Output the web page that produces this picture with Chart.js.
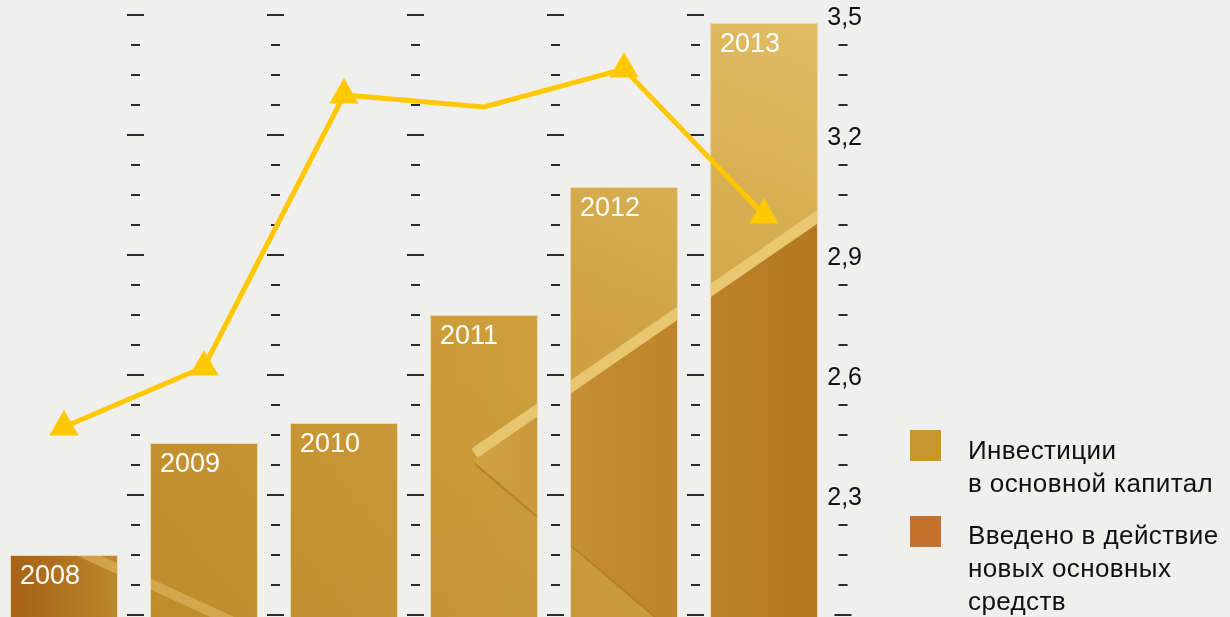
<!DOCTYPE html>
<html>
<head>
<meta charset="utf-8">
<script src="https://cdn.jsdelivr.net/npm/chart.js@4/dist/chart.umd.min.js"></script>
<style>
html, body { margin: 0; padding: 0; background: #efefee; overflow: hidden; }
#wrap { position: absolute; left: -6px; top: 0; width: 1236px; height: 617px; }
.legend { position: absolute; left: 910px; font-family: "Liberation Sans", Arial, sans-serif; font-size: 26px; letter-spacing: 0.4px; line-height: 33px; color: #111; }
.legend .box { position: absolute; left: 0; width: 31px; height: 31px; }
.legend .txt { position: absolute; left: 58px; white-space: nowrap; }
</style>
</head>
<body>
<div id="wrap"><canvas id="chart" width="1236" height="617"></canvas></div>
<div class="legend" style="top:430px">
  <div class="box" style="background:#c8962f"></div>
  <div class="txt" style="top:4px">Инвестиции<br>в основной капитал</div>
</div>
<div class="legend" style="top:516px">
  <div class="box" style="background:#c5722e"></div>
  <div class="txt" style="top:3px">Введено в действие<br>новых основных<br>средств</div>
</div>
<script>
// values
var years = ['2008', '2009', '2010', '2011', '2012', '2013'];
var barValues = [2.15, 2.43, 2.48, 2.75, 3.07, 3.48];      // bars (height on the same scale)
var lineValues = [2.47, 2.62, 3.30, 3.27, 3.365, 3.00];    // yellow line
var majorValues = [3.5, 3.2, 2.9, 2.6, 2.3];
var majorLabels = ['3,5', '3,2', '2,9', '2,6', '2,3'];
var axisTop = 3.5, axisFloor = 2.0, minorStep = 0.075;

Chart.defaults.font.family = '"Liberation Sans", Arial, sans-serif';

// big folded "gold sheet" that shows through the bars
var texCache = null;
function texture(chart) {
    var ca = chart.chartArea;
    if (!ca) return '#c8962f';
    var key = chart.width + 'x' + chart.height + ':' + ca.left + ',' + ca.top + ',' + ca.right + ',' + ca.bottom;
    if (texCache && texCache.key === key) return texCache.pattern;
    var c = document.createElement('canvas');
    c.width = chart.width; c.height = chart.height;
    var g = c.getContext('2d');
    var X = function(f){ return ca.left + f * (ca.right - ca.left); };
    var Y = function(f){ return ca.top + f * (ca.bottom - ca.top); };

    var gr = g.createLinearGradient(X(0), 0, X(1), 0);
    gr.addColorStop(0, '#a65e18');
    gr.addColorStop(0.07, '#b2721f');
    gr.addColorStop(0.14, '#c08a2e');
    gr.addColorStop(0.2, '#c5922f');
    gr.addColorStop(0.5, '#cb9a38');
    gr.addColorStop(1, '#d3a94a');
    g.fillStyle = gr;
    g.fillRect(0, 0, c.width, c.height);

    gr = g.createLinearGradient(0, Y(0), 0, Y(0.55));
    gr.addColorStop(0, 'rgba(250,225,150,0.35)');
    gr.addColorStop(1, 'rgba(250,225,150,0)');
    g.fillStyle = gr;
    g.fillRect(0, 0, c.width, c.height);

    gr = g.createLinearGradient(0, Y(0.6), 0, Y(1));
    gr.addColorStop(0, 'rgba(120,70,10,0)');
    gr.addColorStop(1, 'rgba(120,70,10,0.08)');
    g.fillStyle = gr;
    g.fillRect(0, 0, c.width, c.height);

    // wedge pointing left
    gr = g.createLinearGradient(X(0.57), 0, X(1), 0);
    gr.addColorStop(0, '#d0a446');
    gr.addColorStop(0.35, '#c38b30');
    gr.addColorStop(1, '#b27620');
    g.fillStyle = gr;
    g.beginPath();
    g.moveTo(X(0.570), Y(0.740));
    g.lineTo(X(1.05), Y(0.280));
    g.lineTo(X(1.05), Y(1.2));
    g.lineTo(X(0.955), Y(1.2));
    g.closePath();
    g.fill();

    // light edge on the upper fold
    g.strokeStyle = 'rgba(236,204,120,0.85)';
    g.lineWidth = 11;
    g.beginPath();
    g.moveTo(X(0.572), Y(0.728));
    g.lineTo(X(1.05), Y(0.268));
    g.stroke();

    // shadow on the lower fold
    g.strokeStyle = 'rgba(140,85,15,0.35)';
    g.lineWidth = 2;
    g.beginPath();
    g.moveTo(X(0.572), Y(0.745));
    g.lineTo(X(0.955), Y(1.2));
    g.stroke();

    // light fold on the left
    g.strokeStyle = 'rgba(228,190,105,0.55)';
    g.lineWidth = 10;
    g.beginPath();
    g.moveTo(X(0.1), Y(0.89));
    g.lineTo(X(0.35), Y(1.05));
    g.stroke();

    texCache = { key: key, pattern: chart.ctx.createPattern(c, 'no-repeat') };
    return texCache.pattern;
}

var tickMarks = {
    id: 'tickMarks',
    beforeDatasetsDraw: function(chart) {
        var ctx = chart.ctx, x = chart.scales.x, y = chart.scales.y;
        var cols = [];
        for (var i = 1; i < years.length; i++) {
            cols.push((x.getPixelForValue(i - 1) + x.getPixelForValue(i)) / 2 + 1.5);
        }
        var rightCol = chart.chartArea.right + 9;
        ctx.save();
        ctx.strokeStyle = '#2a2a2a';
        ctx.lineWidth = 2;
        var steps = Math.round((axisTop - axisFloor) / minorStep);
        for (var k = 0; k <= steps; k++) {
            var v = axisTop - k * minorStep;
            var py = Math.round(y.getPixelForValue(v));
            var major = k % 4 === 0;
            var half = major ? 8.5 : 4.5;
            ctx.beginPath();
            cols.forEach(function(cx) {
                ctx.moveTo(cx - half, py);
                ctx.lineTo(cx + half, py);
            });
            var labelled = majorValues.some(function(m){ return Math.abs(m - v) < 1e-6; });
            if (!labelled) {
                ctx.moveTo(rightCol - half, py);
                ctx.lineTo(rightCol + half, py);
            }
            ctx.stroke();
        }
        ctx.restore();
    }
};

var yearLabels = {
    id: 'yearLabels',
    afterDatasetDraw: function(chart, args) {
        if (args.index !== 1) return;
        var ctx = chart.ctx;
        ctx.save();
        ctx.fillStyle = '#ffffff';
        ctx.font = '27px "Liberation Sans", Arial, sans-serif';
        ctx.textAlign = 'left';
        ctx.textBaseline = 'alphabetic';
        args.meta.data.forEach(function(bar, i) {
            ctx.fillText(years[i], bar.x - bar.width / 2 + 10, bar.y + 28.5);
        });
        ctx.restore();
    }
};

var ctx = document.getElementById('chart').getContext('2d');
new Chart(ctx, {
    data: {
        labels: years,
        datasets: [
            {
                type: 'line',
                label: 'line',
                data: lineValues,
                order: 0,
                borderColor: '#ffc800',
                borderWidth: 5,
                tension: 0,
                pointStyle: 'triangle',
                pointRadius: [17, 17, 17, 0, 17, 17],
                pointBackgroundColor: '#ffc800',
                pointBorderWidth: 0,
                fill: false
            },
            {
                type: 'bar',
                label: 'Инвестиции в основной капитал',
                data: barValues,
                order: 1,
                backgroundColor: function(c) { return texture(c.chart); },
                borderWidth: 1,
                borderColor: 'rgba(232,200,120,0.6)',
                categoryPercentage: 1,
                barPercentage: 0.771
            }
        ]
    },
    options: {
        responsive: false,
        animation: false,
        layout: { autoPadding: false, padding: { top: 15, right: 350, left: 0, bottom: 0 } },
        plugins: { legend: { display: false }, tooltip: { enabled: false } },
        scales: {
            x: { type: 'category', display: false, offset: true },
            y: {
                position: 'right',
                min: 1.995,
                max: axisTop,
                grid: { display: false, drawTicks: false },
                border: { display: false },
                afterBuildTicks: function(s) {
                    s.ticks = majorValues.map(function(v){ return { value: v }; });
                },
                afterFit: function(s) {
                    s.width = 46;
                    s.paddingTop = 0;
                    s.paddingBottom = 0;
                },
                ticks: {
                    mirror: true,
                    crossAlign: 'near',
                    padding: 28,
                    labelOffset: 3,
                    autoSkip: false,
                    color: '#111',
                    font: { size: 25 },
                    callback: function(value, index) { return majorLabels[index]; }
                }
            }
        }
    },
    plugins: [tickMarks, yearLabels]
});
</script>
</body>
</html>
